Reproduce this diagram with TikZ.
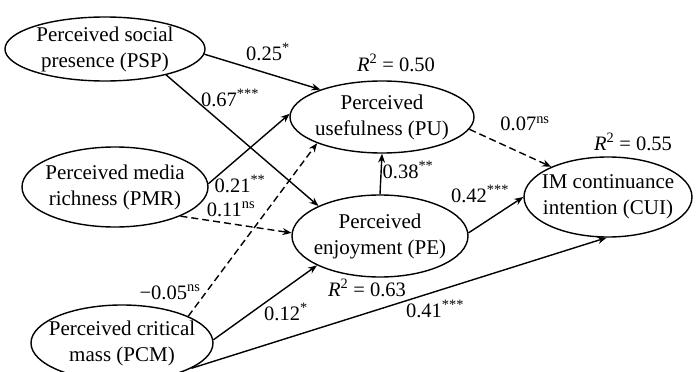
\documentclass[tikz,border=0pt]{standalone}
\usepackage{fontspec}
\setmainfont{Liberation Serif}
\usetikzlibrary{shapes.geometric,arrows.meta}
\begin{document}
\begin{tikzpicture}[x=1pt,y=-1pt,
  latent/.style={draw,line width=1.4pt,ellipse,inner xsep=-20pt,inner ysep=-5pt,align=center,font=\fontsize{21}{26}\selectfont},
  pth/.style={line width=1.4pt,-{Stealth[length=9pt,width=7pt]}},
  nspth/.style={pth,dash pattern=on 7pt off 4pt},
  lab/.style={font=\fontsize{20.5}{24}\selectfont,inner sep=0pt}]
\useasboundingbox (0,0) rectangle (697,372);
% constructs
\node[latent,minimum width=200pt,minimum height=64pt] (psp) at (105,49) {Perceived social\\presence (PSP)};
\node[latent,minimum width=186pt,minimum height=80pt] (pmr) at (115,187) {Perceived media\\richness (PMR)};
\node[latent,minimum width=182pt,minimum height=76pt] (pcm) at (122,343) {Perceived critical\\mass (PCM)};
\node[latent,minimum width=184pt,minimum height=72pt] (pu) at (382,117) {Perceived\\usefulness (PU)};
\node[latent,minimum width=176pt,minimum height=82pt] (pe) at (380,236) {Perceived\\enjoyment (PE)};
\node[latent,minimum width=168pt,minimum height=80pt] (cui) at (608,197) {IM continuance\\intention (CUI)};
% paths
\draw[pth] (psp.-3) -- (pu.156);
\draw[pth] (psp.-23) -- (pe.154);
\draw[pth] (pmr.2) -- (pu.178);
\draw[nspth] (pmr.-24) -- (pe.178);
\draw[nspth] (pcm.22) -- (pu.202);
\draw[pth] (pcm.2) -- (pe.205);
\draw[pth] (pcm.-20) -- (cui.268);
\draw[pth] (pe.90) -- (pu.270);
\draw[pth] (pe.2) -- (cui.180);
\draw[nspth] (pu.-8) -- (cui.152);
% coefficients
\node[lab] (l1) at (268,52) {0.25\textsuperscript{*}};
\node[lab] (l2) at (230,98) {0.67\textsuperscript{***}};
\node[lab] (l3) at (240,184) {0.21\textsuperscript{**}};
\node[lab] (l4) at (231,209) {0.11\textsuperscript{ns}};
\node[lab] (l5) at (170,292) {−0.05\textsuperscript{ns}};
\node[lab] (l6) at (286,312) {0.12\textsuperscript{*}};
\node[lab] (l7) at (435,309) {0.41\textsuperscript{***}};
\node[lab] (l8) at (408,170) {0.38\textsuperscript{**}};
\node[lab] (l9) at (480,194) {0.42\textsuperscript{***}};
\node[lab] (l10) at (525,124) {0.07\textsuperscript{ns}};
% R squared
\node[lab] (r1) at (396,63) {\textit{R}\textsuperscript{2} = 0.50};
\node[lab] (r2) at (633,142) {\textit{R}\textsuperscript{2} = 0.55};
\node[lab] (r3) at (367,288) {\textit{R}\textsuperscript{2} = 0.63};
\end{tikzpicture}
\end{document}
